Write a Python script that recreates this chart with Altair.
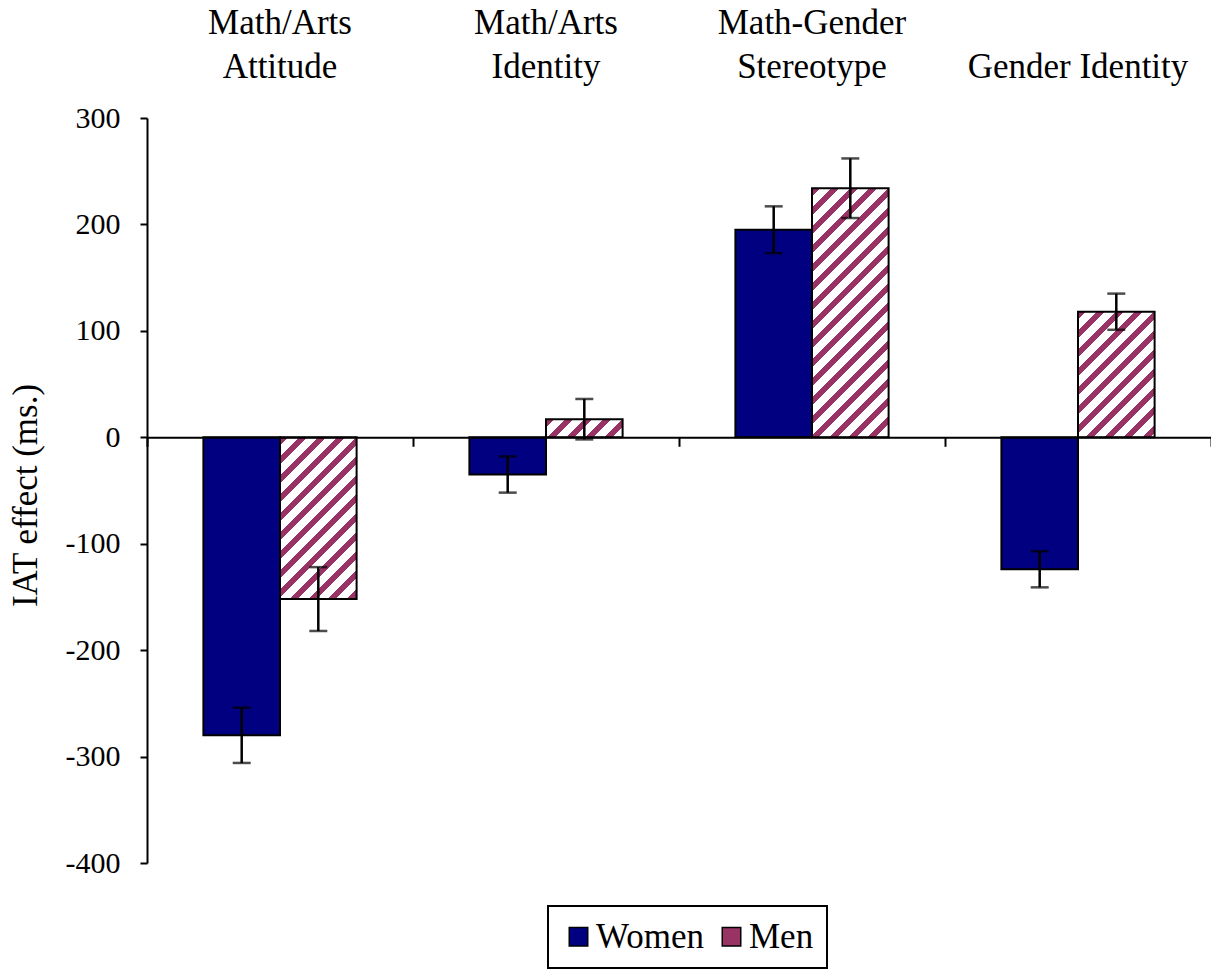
import altair as alt
import pandas as pd

# ---------------- data ----------------
categories = ["Math/Arts Attitude", "Math/Arts Identity", "Math-Gender Stereotype", "Gender Identity"]
label_line1 = ["Math/Arts", "Math/Arts", "Math-Gender", ""]
label_line2 = ["Attitude", "Identity", "Stereotype", "Gender Identity"]
groups = ["Women", "Men"]
women_values = [-280, -35, 195, -124]
women_errors = [26, 17, 22, 17]
men_values = [-152, 17, 234, 118]
men_errors = [30, 19, 28, 17]
y_ticks = [300, 200, 100, 0, -100, -200, -300, -400]

# ---------------- style ----------------
W, H = 1064, 745
Y_DOMAIN = [-400, 300]
FONT = "Liberation Serif"
NAVY = "#000080"
MAROON = "#993366"
GROUP_FRAC = 0.576                      # share of each category slot covered by its two bars
OFF_PAD = (2 / GROUP_FRAC - 2) / 2      # outer padding of the within-category scale

px_per_unit = H / (Y_DOMAIN[1] - Y_DOMAIN[0])
zero_px = Y_DOMAIN[1] * px_per_unit
bar_w = W / len(categories) * GROUP_FRAC / 2

rows = []
for c, wv, we, mv, me in zip(categories, women_values, women_errors, men_values, men_errors):
    rows.append(dict(category=c, group="Women", value=wv, lo=wv - we, hi=wv + we))
    rows.append(dict(category=c, group="Men", value=mv, lo=mv - me, hi=mv + me))
df = pd.DataFrame(rows)
labels_df = pd.DataFrame({"category": categories, "line1": label_line1, "line2": label_line2})


def hatch(w, h, period=19.0, frac=0.42):
    """Diagonal maroon/white stripes as a linear gradient in bounding-box units."""
    total = w + h
    stops = []
    k = 0
    while k * period < total:
        a = k * period / total
        b = min((k + frac) * period / total, 1.0)
        c = min((k + 1) * period / total, 1.0)
        stops += [
            {"offset": a, "color": MAROON},
            {"offset": b, "color": MAROON},
            {"offset": b, "color": "white"},
            {"offset": c, "color": "white"},
        ]
        k += 1
    s = (w + h) / (w * w + h * h)
    return {"gradient": "linear", "x1": 0, "y1": 0, "x2": w * s, "y2": h * s, "stops": stops}


x_enc = alt.X(
    "category:N",
    sort=categories,
    scale=alt.Scale(domain=categories, paddingInner=0, paddingOuter=0),
    axis=alt.Axis(
        orient="bottom", offset=-(H - zero_px), tickBand="extent", labels=False, title=None,
        domainColor="black", domainWidth=2, tickColor="black", tickWidth=2, tickSize=9, zindex=1,
    ),
)
xoff_enc = alt.XOffset("group:N", sort=groups, scale=alt.Scale(domain=groups, paddingInner=0, paddingOuter=OFF_PAD))
y_scale = alt.Scale(domain=Y_DOMAIN, nice=False, zero=False)
y_enc = alt.Y(
    "value:Q",
    scale=y_scale,
    axis=alt.Axis(
        values=y_ticks, grid=False, title="IAT effect (ms.)", labelExpr="'' + datum.value",
        labelFont=FONT, labelFontSize=30, labelColor="black", labelPadding=20,
        tickColor="black", tickWidth=2, tickSize=7, domainColor="black", domainWidth=2,
        titleFont=FONT, titleFontSize=35, titleFontWeight="normal", titleColor="black",
        titleX=-111, titleY=377, titleBaseline="alphabetic", titleAlign="center", titleAngle=270,
    ),
)

base = alt.Chart(df)

women = base.transform_filter(alt.datum.group == "Women").mark_bar(
    stroke="black", strokeWidth=2
).encode(
    x=x_enc, xOffset=xoff_enc, y=y_enc,
    color=alt.Color(
        "group:N",
        scale=alt.Scale(domain=groups, range=[NAVY, MAROON]),
        legend=alt.Legend(
            title=None, orient="none", direction="horizontal", legendX=401, legendY=788,
            symbolType="square", symbolSize=342, symbolStrokeColor="black", symbolStrokeWidth=1.5,
            labelFont=FONT, labelFontSize=35, labelColor="black", labelOffset=0,
            columnPadding=10, padding=13, strokeColor="black", fillColor="white",
        ),
    ),
)

men_layers = []
for c, mv in zip(categories, men_values):
    h = abs(mv) * px_per_unit
    men_layers.append(
        base.transform_filter((alt.datum.group == "Men") & (alt.datum.category == c))
        .mark_bar(fill=hatch(bar_w, h), stroke="black", strokeWidth=2)
        .encode(x=x_enc, xOffset=xoff_enc, y=y_enc)
    )

err_rule = base.mark_rule(color="black", strokeWidth=2.5).encode(
    x=x_enc, xOffset=xoff_enc, y=alt.Y("lo:Q", scale=y_scale), y2="hi:Q"
)
cap_lo = base.mark_tick(orient="horizontal", color="black", size=18, thickness=2.5).encode(
    x=x_enc, xOffset=xoff_enc, y=alt.Y("lo:Q", scale=y_scale)
)
cap_hi = base.mark_tick(orient="horizontal", color="black", size=18, thickness=2.5).encode(
    x=x_enc, xOffset=xoff_enc, y=alt.Y("hi:Q", scale=y_scale)
)
txt1 = alt.Chart(labels_df).mark_text(
    font=FONT, fontSize=35, color="black", baseline="alphabetic", align="center"
).encode(x=x_enc, y=alt.value(-84), text="line1:N")
txt2 = alt.Chart(labels_df).mark_text(
    font=FONT, fontSize=35, color="black", baseline="alphabetic", align="center"
).encode(x=x_enc, y=alt.value(-40), text="line2:N")

chart = alt.layer(women, *men_layers, err_rule, cap_lo, cap_hi, txt1, txt2).properties(
    width=W, height=H,
    autosize=alt.AutoSizeParams(type="none"),
    padding={"left": 139, "top": 110, "right": 0, "bottom": 106},
    background="white",
).configure_view(strokeWidth=0).configure_legend(strokeWidth=2)

chart.save("out.html", embed_options={"renderer": "svg", "actions": False})
